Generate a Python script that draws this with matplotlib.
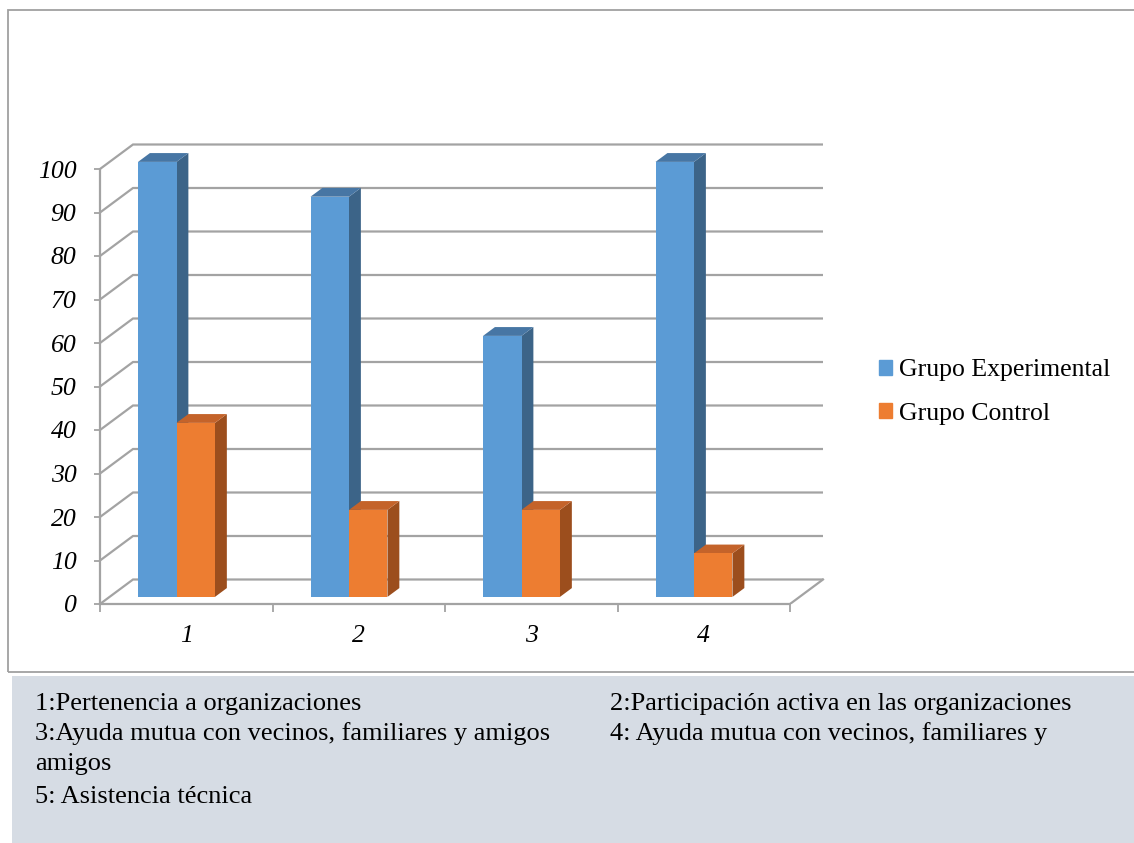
import matplotlib
matplotlib.use("Agg")
import matplotlib.pyplot as plt
from matplotlib.patches import Polygon, Rectangle, Patch

# datos del gráfico
categorias = ["1", "2", "3", "4"]
experimental = [100, 92, 60, 100]
control = [40, 20, 20, 10]
series = ["Grupo Experimental", "Grupo Control"]
yticks = list(range(0, 101, 10))
notas_izq = ["1:Pertenencia a organizaciones",
             "3:Ayuda mutua con vecinos, familiares y amigos",
             "amigos",
             "5: Asistencia técnica"]
notas_der = ["2:Participación activa en las organizaciones",
             "4: Ayuda mutua con vecinos, familiares y"]

plt.rcParams['font.family'] = ['Liberation Serif', 'DejaVu Serif']

W, H = 1134, 843
fig = plt.figure(figsize=(W / 100, H / 100), dpi=100)

# marco del gráfico y recuadro de notas
fig.patches.append(Rectangle((8 / W, (H - 672) / H), 1.2, 662 / H,
                             transform=fig.transFigure, fill=False,
                             ec='#A0A0A0', lw=1.3))
fig.patches.append(Rectangle((12 / W, 0), 1, (H - 676) / H,
                             transform=fig.transFigure, fc='#D6DCE4', ec='none'))

px_x = 172.5   # pixeles por categoría
px_y = 4.35    # pixeles por unidad
ax = fig.add_axes([100 / W, (H - 604) / H, 730 / W, 474 / H])
ax.set_xlim(0, 730 / px_x)
ax.set_ylim(0, 474 / px_y)
ax.patch.set_visible(False)

# profundidad del efecto 3D
DX = 33 / px_x
DY = 24.5 / px_y
n = len(categorias)
gris = '#A3A3A3'


def proj(x, y, d):
    return (x + d * DX, y + d * DY)


# pared del fondo y pared lateral
for v in yticks:
    ax.plot([0, DX, n + DX], [v, v + DY, v + DY], color=gris, lw=1.6,
            zorder=1, solid_joinstyle='miter', solid_capstyle='butt')
ax.plot([n, n + DX], [0, DY], color=gris, lw=1.6, zorder=1)


def barra(x0, w, h, cara, lado, tapa):
    d0, d1 = 0.29, 0.65
    fl, fr = proj(x0, 0, d0), proj(x0 + w, 0, d0)
    ftl, ftr = proj(x0, h, d0), proj(x0 + w, h, d0)
    btl, btr = proj(x0, h, d1), proj(x0 + w, h, d1)
    bbr = proj(x0 + w, 0, d1)
    ax.add_patch(Polygon([fr, bbr, btr, ftr], closed=True, fc=lado, ec='none', zorder=3))
    ax.add_patch(Polygon([ftl, ftr, btr, btl], closed=True, fc=tapa, ec='none', zorder=3))
    ax.add_patch(Polygon([fl, fr, ftr, ftl], closed=True, fc=cara, ec='none', zorder=3))


azul = ('#5B9BD5', '#3C6488', '#4776A4')
naranja = ('#ED7D31', '#9C4E1D', '#C4632A')
ancho = 0.223
for i in range(n):
    barra(i + 0.165, ancho, experimental[i], *azul)
    barra(i + 0.165 + ancho, ancho, control[i], *naranja)

# ejes
for s in ['top', 'right']:
    ax.spines[s].set_visible(False)
ax.spines['left'].set_bounds(0, 100)
ax.spines['bottom'].set_bounds(0, n)
for s in ['left', 'bottom']:
    ax.spines[s].set_color(gris)
    ax.spines[s].set_linewidth(1.6)
    ax.spines[s].set_zorder(2)

ax.set_yticks(yticks)
ax.set_yticklabels([str(v) for v in yticks], fontsize=18.5, style='italic')
ax.tick_params(axis='y', length=4, width=1.3, color=gris, pad=13)

ax.set_xticks(range(n + 1))
ax.set_xticklabels([''] * (n + 1))
ax.set_xticks([i + 0.5 for i in range(n)], minor=True)
ax.set_xticklabels(categorias, minor=True, fontsize=18.5, style='italic')
ax.tick_params(axis='x', which='major', length=6, width=1.3, color=gris)
ax.tick_params(axis='x', which='minor', length=0, pad=15)

# leyenda
handles = [Patch(color=azul[0]), Patch(color=naranja[0])]
fig.legend(handles, series, loc='center left',
           bbox_to_anchor=(856 / W, 1 - 392 / H), frameon=False,
           fontsize=18.5, handlelength=0.5, handleheight=0.5,
           handletextpad=0.27, labelspacing=0.82)

# notas
ys = [704, 734, 764, 797]
for t, y in zip(notas_izq, ys):
    fig.text(35 / W, 1 - y / H, t, fontsize=19, va='center', ha='left')
for t, y in zip(notas_der, ys):
    fig.text(610 / W, 1 - y / H, t, fontsize=19, va='center', ha='left')

fig.savefig('out.png', dpi=100)
